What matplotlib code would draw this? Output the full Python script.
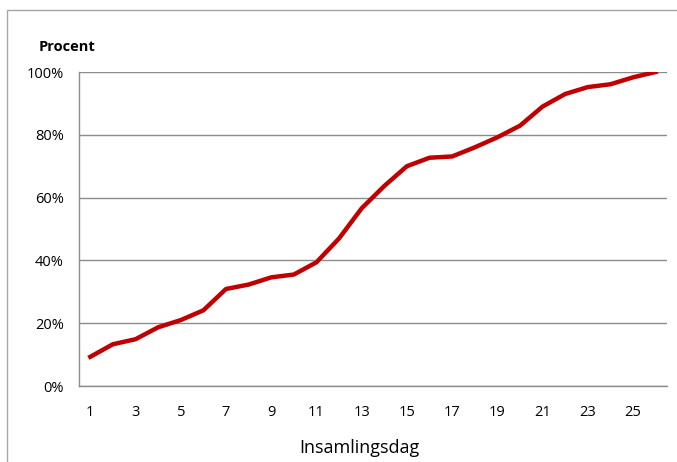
import numpy as np
import matplotlib.pyplot as plt
from matplotlib.patches import Rectangle

# collection day vs cumulative share (%)
days = np.arange(1, 27)
procent = [9.3, 13.3, 14.9, 18.7, 21.0, 24.1, 30.9, 32.3, 34.6, 35.5,
           39.4, 47.0, 56.6, 63.7, 70.0, 72.7, 73.1, 76.0, 79.2, 82.9,
           89.0, 93.0, 95.2, 96.1, 98.3, 100.0]
xtick_days = [1, 3, 5, 7, 9, 11, 13, 15, 17, 19, 21, 23, 25]
ytick_vals = [0, 20, 40, 60, 80, 100]

plt.rcParams['font.family'] = ['Open Sans', 'DejaVu Sans']

fig = plt.figure(figsize=(6.77, 4.62), dpi=100)
W, H = 677, 462
ax = fig.add_axes([79 / W, 1 - 386 / H, 588 / W, 314 / H])

# outer chart frame
fig.patches.append(Rectangle((7 / W, -0.1), 1.2, 1 - 10 / H + 0.1,
                             transform=fig.transFigure, fill=False,
                             edgecolor='#a6a6a6', linewidth=1.0))

ax.plot(days, procent, color='#c00000', linewidth=3.2, solid_joinstyle='round')

ax.set_xlim(0.5, 26.5)
ax.set_ylim(0, 100)
ax.set_xticks(xtick_days)
ax.set_yticks(ytick_vals)
ax.set_yticklabels([f'{v}%' for v in ytick_vals])
ax.tick_params(length=0, labelsize=10.5, colors='black')
ax.tick_params(axis='x', pad=14)
ax.tick_params(axis='y', pad=11)

ax.grid(axis='y', color='#8c8c8c', linewidth=1)
ax.set_axisbelow(True)
for side in ['top', 'right']:
    ax.spines[side].set_visible(False)
for side in ['left', 'bottom']:
    ax.spines[side].set_color('#8c8c8c')
    ax.spines[side].set_linewidth(1)

fig.text(359 / W, 1 - 448 / H, 'Insamlingsdag', fontsize=13,
         ha='center', va='center')
fig.text(39 / W, 1 - 47 / H, 'Procent', fontsize=10.5, fontweight='bold',
         va='center', ha='left')

fig.savefig('out.png', dpi=100)
